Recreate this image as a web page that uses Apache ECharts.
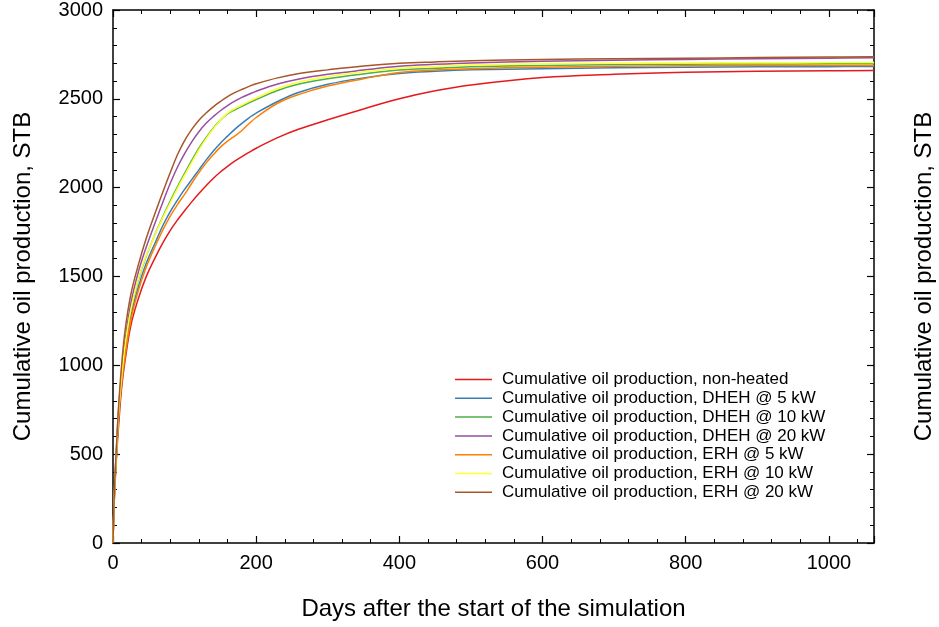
<!DOCTYPE html>
<html>
<head>
<meta charset="utf-8">
<script src="https://cdn.jsdelivr.net/npm/echarts@6/dist/echarts.min.js"></script>
<style>
html,body{margin:0;padding:0;background:#fff;}
#chart{width:939px;height:627px;}
</style>
</head>
<body>
<div id="chart"></div>
<script>
const days      = [0,2,5,8,12,17,25,35,46,60,70,80,90,100,110,120,130,140,150,160,170,180,190,200,230,260,300,350,400,450,500,600,700,800,900,1000,1063];
const nonHeated = [0,260,490,670,870,1030,1225,1370,1495,1615,1692,1760,1818,1870,1920,1967,2011,2052,2088,2120,2149,2175,2199,2222,2282,2330,2382,2443,2500,2545,2578,2620,2638,2649,2655,2658,2660];
const dheh5     = [0,270,510,720,900,1065,1275,1435,1570,1700,1790,1865,1930,1990,2045,2100,2155,2205,2250,2290,2328,2362,2393,2420,2485,2537,2582,2618,2643,2655,2663,2670,2675,2678,2680,2681,2682];
const dheh10    = [0,280,530,740,930,1110,1310,1475,1610,1750,1840,1925,2005,2080,2153,2222,2282,2335,2380,2415,2438,2458,2478,2496,2547,2583,2613,2640,2662,2672,2680,2688,2693,2695,2696,2697,2697];
const dheh20    = [0,290,545,760,950,1140,1350,1520,1660,1815,1922,2025,2115,2192,2258,2315,2362,2400,2433,2462,2487,2508,2526,2543,2583,2612,2638,2662,2683,2694,2702,2711,2717,2722,2726,2729,2731];
const erh5      = [0,270,510,720,895,1055,1255,1415,1548,1680,1765,1840,1905,1962,2025,2085,2138,2185,2228,2262,2290,2322,2360,2395,2475,2525,2572,2613,2648,2662,2670,2678,2683,2686,2687,2688,2688];
const erh10     = [0,280,530,745,935,1115,1315,1480,1612,1748,1835,1915,1995,2070,2143,2213,2275,2330,2380,2420,2445,2465,2486,2505,2558,2595,2625,2652,2672,2682,2690,2697,2700,2702,2703,2704,2705];
const erh20     = [0,295,555,780,1000,1200,1400,1560,1710,1870,1980,2085,2185,2265,2328,2380,2420,2455,2485,2512,2535,2553,2570,2585,2618,2642,2663,2685,2700,2708,2714,2721,2726,2729,2732,2735,2737];

const seriesNames = [
  'Cumulative oil production, non-heated',
  'Cumulative oil production, DHEH @ 5 kW',
  'Cumulative oil production, DHEH @ 10 kW',
  'Cumulative oil production, DHEH @ 20 kW',
  'Cumulative oil production, ERH @ 5 kW',
  'Cumulative oil production, ERH @ 10 kW',
  'Cumulative oil production, ERH @ 20 kW'
];
const seriesValues = [nonHeated, dheh5, dheh10, dheh20, erh5, erh10, erh20];
const colors = ['#e41a1c','#377eb8','#4daf4a','#984ea3','#ff7f00','#ffff33','#a65628'];

const xTitle = 'Days after the start of the simulation';
const yTitle = 'Cumulative oil production, STB';

const FONT = 'Liberation Sans, Arial, sans-serif';
const axisLine = {show:true, onZero:false, lineStyle:{color:'#000', width:1.5}};
const tick = {show:true, inside:true, length:7, lineStyle:{color:'#000', width:1.2}};
const minor = {show:true, splitNumber:5, length:4, lineStyle:{color:'#000', width:1}};
const plainFmt = v => String(v);

const chart = echarts.init(document.getElementById('chart'), null, {renderer:'canvas'});
chart.setOption({
  animation:false,
  backgroundColor:'#fff',
  color: colors,
  grid:{left:113, right:65, top:10, bottom:84, containLabel:false, outerBoundsMode:'none'},
  legend:{
    orient:'vertical', left:450, top:366,
    icon:'rect', itemWidth:37, itemHeight:1.5, itemGap:1.8,
    textStyle:{fontFamily:FONT, fontSize:17, color:'#000', lineHeight:17, padding:[0,0,0,5]},
    data: seriesNames
  },
  xAxis:[{
    type:'value', min:0, max:1063, interval:200,
    name:xTitle, nameLocation:'middle', nameGap:54,
    nameTextStyle:{fontFamily:FONT, fontSize:24, color:'#000'},
    axisLine:axisLine, axisTick:tick, minorTick:minor,
    axisLabel:{fontFamily:FONT, fontSize:20, color:'#000', margin:10, showMaxLabel:false, formatter:plainFmt},
    splitLine:{show:false}
  },{
    type:'value', min:0, max:1063, interval:200, position:'top',
    axisLine:axisLine, axisTick:tick, minorTick:minor,
    axisLabel:{show:false}, splitLine:{show:false}
  }],
  yAxis:[{
    type:'value', min:0, max:3000, interval:500,
    name:yTitle, nameLocation:'middle', nameGap:78, nameRotate:90,
    nameTextStyle:{fontFamily:FONT, fontSize:24, color:'#000'},
    axisLine:axisLine, axisTick:tick, minorTick:minor,
    axisLabel:{fontFamily:FONT, fontSize:20, color:'#000', margin:10, formatter:plainFmt},
    splitLine:{show:false}
  },{
    type:'value', min:0, max:3000, interval:500, position:'right',
    name:yTitle, nameLocation:'middle', nameGap:38, nameRotate:90,
    nameTextStyle:{fontFamily:FONT, fontSize:24, color:'#000'},
    axisLine:axisLine, axisTick:tick, minorTick:minor,
    axisLabel:{show:false}, splitLine:{show:false}
  }],
  series: seriesNames.map((n,i)=>({
    name:n, type:'line', xAxisIndex:0, yAxisIndex:0,
    data: days.map((d,j)=>[d, seriesValues[i][j]]),
    showSymbol:false, symbol:'none', smooth:0.4,
    lineStyle:{width:1.5, color:colors[i]},
    itemStyle:{color:colors[i]}
  }))
});
</script>
</body>
</html>
